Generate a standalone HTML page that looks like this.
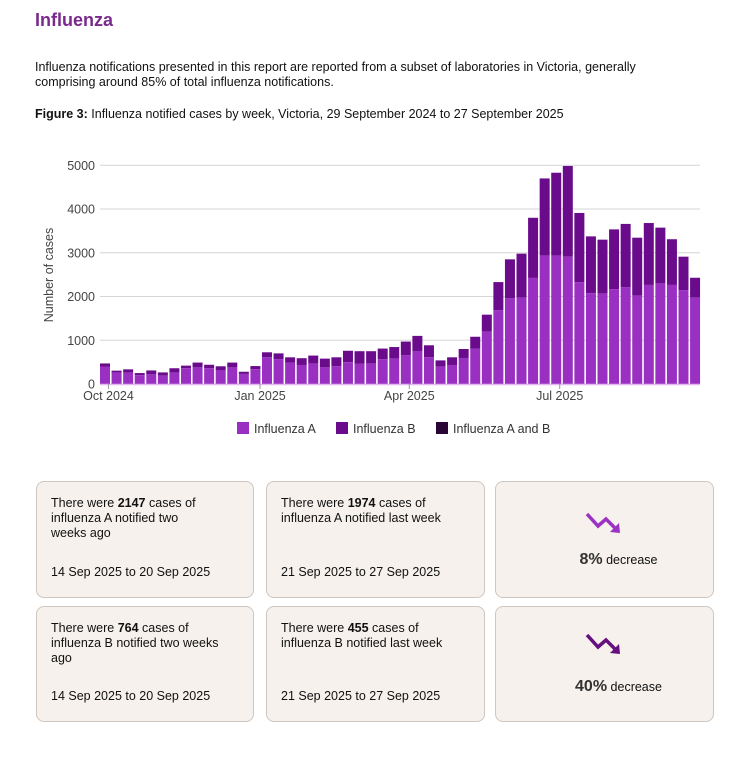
<!DOCTYPE html>
<html><head><meta charset="utf-8"><style>
body{margin:0;width:752px;height:764px;background:#fff;font-family:"Liberation Sans",sans-serif;color:#111;position:relative;overflow:hidden}
.abs{position:absolute}
.card{position:absolute;background:#f6f1ed;border:1px solid #cfc6bf;border-radius:8px;box-sizing:border-box;font-size:12.5px;line-height:15px;padding:14px 14px}
.card .d{position:absolute;left:14px;bottom:17px}
.pct{position:absolute;width:100%;text-align:center;font-size:12.5px}
.pct b{font-size:16px;color:#333}
</style></head><body>
<div class="abs" style="left:35px;top:10px;font-size:18px;font-weight:bold;color:#7a2a8c">Influenza</div>
<div class="abs" style="left:35px;top:60px;width:632px;font-size:12.5px;line-height:15px">Influenza notifications presented in this report are reported from a subset of laboratories in Victoria, generally comprising around 85% of total influenza notifications.</div>
<div class="abs" style="left:35px;top:107px;font-size:12.5px"><b>Figure 3:</b> Influenza notified cases by week, Victoria, 29 September 2024 to 27 September 2025</div>
<svg class="abs" style="left:0;top:0" width="752" height="460" id="chart"></svg>
<div class="card" style="left:36px;top:481px;width:218px;height:117px">There were <b>2147</b> cases of<br>influenza A notified two<br>weeks ago<div class="d">14 Sep 2025 to 20 Sep 2025</div></div>
<div class="card" style="left:266px;top:481px;width:219px;height:117px">There were <b>1974</b> cases of<br>influenza A notified last week<div class="d">21 Sep 2025 to 27 Sep 2025</div></div>
<div class="card" style="left:495px;top:481px;width:219px;height:117px">
<svg class="abs" style="left:88px;top:28px" width="46" height="26"><polyline points="3,4 14,16 22,9 33,20" fill="none" stroke="#9b32c4" stroke-width="3.5"/><polygon points="36,23 26,22 35,13" fill="#9b32c4"/></svg>
<div class="pct" style="top:70px"><b>8%</b> decrease</div></div>
<div class="card" style="left:36px;top:606px;width:218px;height:116px">There were <b>764</b> cases of<br>influenza B notified two weeks<br>ago<div class="d">14 Sep 2025 to 20 Sep 2025</div></div>
<div class="card" style="left:266px;top:606px;width:219px;height:116px">There were <b>455</b> cases of<br>influenza B notified last week<div class="d">21 Sep 2025 to 27 Sep 2025</div></div>
<div class="card" style="left:495px;top:606px;width:219px;height:116px">
<svg class="abs" style="left:88px;top:24px" width="46" height="26"><polyline points="3,4 14,16 22,9 33,20" fill="none" stroke="#64107f" stroke-width="3.5"/><polygon points="36,23 26,22 35,13" fill="#64107f"/></svg>
<div class="pct" style="top:72px"><b>40%</b> decrease</div></div>
<script>
const totals=[470,305,335,250,310,265,360,420,490,440,405,490,280,410,725,700,610,590,650,580,610,760,750,750,810,845,970,1100,885,540,610,800,1080,1585,2330,2850,2980,3800,4700,4830,4985,3910,3375,3300,3535,3660,3345,3680,3575,3310,2911,2429];
const fluA=[400,260,260,200,220,190,260,360,380,360,320,380,230,340,610,570,490,435,465,380,410,500,460,465,565,580,655,755,610,395,435,595,810,1195,1685,1965,1975,2425,2935,2935,2910,2330,2075,2065,2170,2210,2020,2265,2300,2265,2147,1974];
const yTicks=[0,1000,2000,3000,4000,5000];
const xTickLabels=["Oct 2024","Jan 2025","Apr 2025","Jul 2025"];
const xTickIdx=[0.3,13.4,26.3,39.3];
const NS="http://www.w3.org/2000/svg",svg=document.getElementById('chart');
const x0=105,step=11.57,bw=10,y0=384,yTop=165.3,left=100,right=700;
const X=i=>x0+i*step, Y=v=>y0-(v/5000)*(y0-yTop);
function mk(t,a,txt){const e=document.createElementNS(NS,t);for(const k in a)e.setAttribute(k,a[k]);if(txt!=null)e.textContent=txt;svg.appendChild(e);return e;}
yTicks.forEach(v=>{
 const g=mk('line',{x1:left,x2:right,y1:Y(v),y2:Y(v),stroke:'#d6d6d6','stroke-width':1});
 
 
 const t=mk('text',{x:95,y:Y(v)+4.5,'text-anchor':'end','font-size':12.5,fill:'#444'},String(v));
 
 
});
totals.forEach((tot,i)=>{
 const a=fluA[i];
 const rb=mk('rect',{x:X(i)-bw/2,y:Y(tot),width:bw,height:Y(a)-Y(tot),fill:'#690b8a'});
 
 
 const ra=mk('rect',{x:X(i)-bw/2,y:Y(a),width:bw,height:y0-Y(a),fill:'#9a30c2'});
 
 
});
const ax=mk('line',{x1:left,x2:right,y1:y0+0.5,y2:y0+0.5,stroke:'#e4b8f0','stroke-width':1.5});


xTickLabels.forEach((l,k)=>{
 const xx=X(xTickIdx[k]);
 mk('line',{x1:xx,x2:xx,y1:y0,y2:y0+5,stroke:'#999'});
 const t=mk('text',{x:xx,y:400,'text-anchor':'middle','font-size':12.5,fill:'#444'},l);
 
 
});
const yt=mk('text',{x:0,y:0,transform:'translate(53,275) rotate(-90)','text-anchor':'middle','font-size':12.5,fill:'#444'},'Number of cases');


[["Influenza A","#9a30c2",237],["Influenza B","#690b8a",336],["Influenza A and B","#2a0634",436]].forEach(([n,c,x])=>{
 const r=mk('rect',{x:x,y:422,width:12,height:12,fill:c});
 
 
 const t=mk('text',{x:x+17,y:433,'font-size':12.5,fill:'#333'},n);
 
 
});
</script>
</body></html>
